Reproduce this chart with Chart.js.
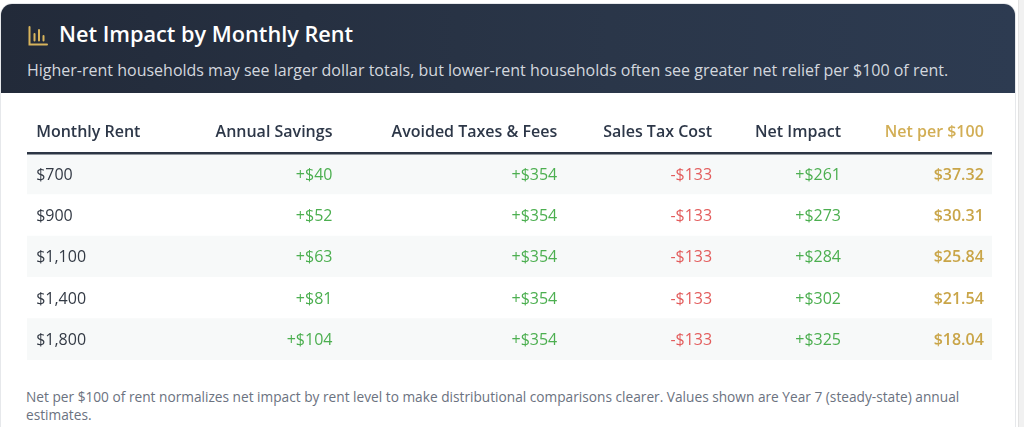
<!DOCTYPE html>
<html>
<head>
<meta charset="utf-8">
<script src="https://cdn.jsdelivr.net/npm/chart.js@4.4.1/dist/chart.umd.min.js"></script>
<style>
  html, body { margin: 0; padding: 0; background: #ffffff; font-family: "Open Sans", "Noto Sans", sans-serif; }
  body { width: 1024px; height: 427px; overflow: hidden; position: relative; }
  .scroll { position: absolute; right: 0; top: 0; width: 5px; height: 427px; background: #f1f1f1; border-left: 1px solid #e2e2e2; }
  .card { position: absolute; left: 0; top: 3px; width: 1016px; height: 440px; background: #fff;
          border: 1px solid #e6e8eb; border-radius: 12px; overflow: hidden; box-sizing: border-box; }
  .head { position: absolute; left: 0; top: 0; width: 100%; height: 89px;
          background: linear-gradient(90deg, #222a39 0%, #2a3649 60%, #2d3b51 100%); }
  .title { position: absolute; left: 58px; top: 15px; color: #ffffff; font-size: 21.7px; font-weight: 600; white-space: nowrap; }
  .icon { position: absolute; left: 27px; top: 22px; }
  .sub { position: absolute; left: 26px; top: 55px; color: #d3d7de; font-size: 16px; white-space: nowrap; }
  .wrap { position: absolute; left: 0; top: 97px; width: 1016px; height: 270px; }
  .note { position: absolute; left: 26px; top: 388px; width: 965px; color: #6b7280; font-size: 13.7px; line-height: 17.5px; }
</style>
</head>
<body>
<div class="scroll"></div>
<div class="card">
  <div class="head">
    <svg class="icon" width="20" height="20" viewBox="0 0 20 20">
      <path d="M1.5 1 V18.5 H19" fill="none" stroke="#d8b45c" stroke-width="2" stroke-linecap="round"/>
      <path d="M6.5 14.5 V8 M11 14.5 V4 M15.5 14.5 V10" fill="none" stroke="#d8b45c" stroke-width="2" stroke-linecap="round"/>
    </svg>
    <div class="title">Net Impact by Monthly Rent</div>
    <div class="sub">Higher-rent households may see larger dollar totals, but lower-rent households often see greater net relief per $100 of rent.</div>
  </div>
</div>
<div class="wrap"><canvas id="myChart"></canvas></div>
<div class="note">Net per $100 of rent normalizes net impact by rent level to make distributional comparisons clearer. Values shown are Year 7 (steady-state) annual estimates.</div>

<script>
// table data
const columnHeaders = ['Monthly Rent', 'Annual Savings', 'Avoided Taxes & Fees', 'Sales Tax Cost', 'Net Impact', 'Net per $100'];
const rentLabels = ['$700', '$900', '$1,100', '$1,400', '$1,800'];
const annualSavings = [40, 52, 63, 81, 104];
const avoidedTaxes = [354, 354, 354, 354, 354];
const salesTaxCost = [-133, -133, -133, -133, -133];
const netImpact = [261, 273, 284, 302, 325];
const netPer100 = [37.32, 30.31, 25.84, 21.54, 18.04];

// layout: where each column's text is anchored across the table width (0..1)
const colAnchor = [0.0095, 0.3165, 0.5495, 0.71, 0.8435, 0.9915];
const colAlign = ['left', 'right', 'right', 'right', 'right', 'right'];

const green = '#4caf50';
const red = '#e35d5d';
const gold = '#c9a548';
const ink = '#2d3748';

const signed = v => (v < 0 ? '-$' : '+$') + Math.abs(v).toLocaleString('en-US');
const columns = [
    { values: rentLabels, fmt: v => v, color: '#333a45', weight: 400 },
    { values: annualSavings, fmt: signed, color: green, weight: 400 },
    { values: avoidedTaxes, fmt: signed, color: green, weight: 400 },
    { values: salesTaxCost, fmt: signed, color: red, weight: 400 },
    { values: netImpact, fmt: signed, color: green, weight: 400 },
    { values: netPer100, fmt: v => '$' + v.toFixed(2), color: gold, weight: 600 }
];

const rowLabels = [columnHeaders[0]].concat(rentLabels);

const tableText = {
    id: 'tableText',
    afterDatasetsDraw(chart) {
        const { ctx, chartArea, scales: { x, y } } = chart;
        ctx.save();
        ctx.textBaseline = 'middle';
        // header row
        columnHeaders.forEach((h, c) => {
            ctx.font = '600 16px "Open Sans"';
            ctx.fillStyle = c === 5 ? '#d2ae55' : ink;
            ctx.textAlign = colAlign[c];
            ctx.fillText(h, x.getPixelForValue(colAnchor[c]), y.getPixelForValue(0));
        });
        // line under header
        const yl = y.getPixelForValue(0.5);
        ctx.strokeStyle = '#2d3645';
        ctx.lineWidth = 2.5;
        ctx.beginPath();
        ctx.moveTo(chartArea.left, yl);
        ctx.lineTo(chartArea.right, yl);
        ctx.stroke();
        // body
        columns.forEach((col, c) => {
            ctx.font = col.weight + ' 16px "Open Sans"';
            ctx.fillStyle = col.color;
            ctx.textAlign = colAlign[c];
            col.values.forEach((v, r) => {
                ctx.fillText(col.fmt(v), x.getPixelForValue(colAnchor[c]), y.getPixelForValue(r + 1) + 1);
            });
        });
        ctx.restore();
    }
};

const ctx = document.getElementById('myChart');
new Chart(ctx, {
    type: 'bar',
    data: {
        labels: rowLabels,
        datasets: [{
            label: 'rows',
            data: rowLabels.map((l, i) => i === 0 ? null : [0, 1]),
            backgroundColor: rowLabels.map((l, i) => i % 2 === 1 ? '#f7f9f9' : '#ffffff'),
            borderWidth: 0,
            barPercentage: 1,
            categoryPercentage: 1
        }]
    },
    options: {
        indexAxis: 'y',
        responsive: true,
        maintainAspectRatio: false,
        animation: false,
        layout: { padding: { left: 27, right: 24, top: 15, bottom: 7 } },
        plugins: { legend: { display: false }, tooltip: { enabled: false } },
        scales: {
            x: { type: 'linear', min: 0, max: 1, display: false },
            y: { type: 'category', display: false, offset: true }
        }
    },
    plugins: [tableText]
});
</script>
</body>
</html>
